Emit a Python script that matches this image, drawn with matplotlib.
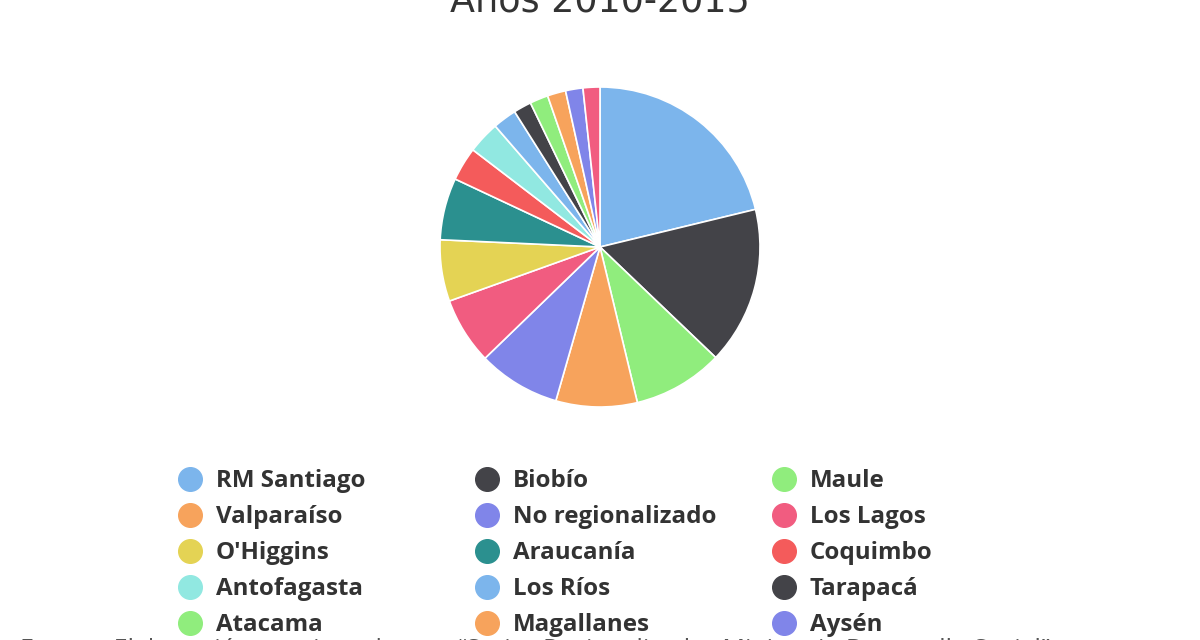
import matplotlib
matplotlib.use("Agg")
import matplotlib.pyplot as plt

plt.rcParams['font.family'] = ['Open Sans', 'DejaVu Sans']

# regiones y participación (%)
regiones = ["RM Santiago", "Biobío", "Maule", "Valparaíso", "No regionalizado",
            "Los Lagos", "O'Higgins", "Araucanía", "Coquimbo", "Antofagasta",
            "Los Ríos", "Tarapacá", "Atacama", "Magallanes", "Aysén",
            "Arica y Parinacota"]
valores = [21.2, 15.9, 9.1, 8.2, 8.3, 6.75, 6.2, 6.25, 3.4, 3.25,
           2.4, 1.8, 1.85, 1.85, 1.75, 1.7]
colores = ["#7cb5ec", "#434348", "#90ed7d", "#f7a35c", "#8085e9",
           "#f15c80", "#e4d354", "#2b908f", "#f45b5b", "#91e8e1",
           "#7cb5ec", "#434348", "#90ed7d", "#f7a35c", "#8085e9",
           "#f15c80"]

W, H = 1200, 640
fig = plt.figure(figsize=(12, 6.4), dpi=100)

# pie
cx, cy, R = 600, 247, 160
ax = fig.add_axes(((cx - R) / W, (H - cy - R) / H, 2 * R / W, 2 * R / H))
ax.pie(valores, colors=colores, startangle=90, counterclock=False, radius=1,
       wedgeprops={"edgecolor": "white", "linewidth": 1.2})
ax.set_xlim(-1, 1)
ax.set_ylim(-1, 1)
ax.set_aspect("equal")
ax.axis("off")

# titulo (cortado arriba como en el original)
fig.text(600 / W, 1 - 11 / H, "Años 2010-2015", ha="center", va="baseline",
         fontsize=26.3, color="#333333", family=["DejaVu Sans"])

# leyenda manual, 3 columnas por filas
col_x = [190, 487, 784]
for i, (nom, c) in enumerate(zip(regiones, colores)):
    fila, col = divmod(i, 3)
    y = 479 + fila * 36
    fig.lines.append(plt.Line2D([col_x[col] / W], [1 - y / H], marker="o",
                                markersize=17, color=c, linestyle="none",
                                transform=fig.transFigure))
    fig.text((col_x[col] + 26) / W, 1 - (y + 2) / H, nom, ha="left", va="center",
             fontsize=17.4, fontweight="bold", color="#333333")

# fuente (cortada abajo)
fig.text(20 / W, 1 - 657 / H,
         "Fuente: Elaboración propia en base a “Series Regionalizadas Ministerio Desarrollo Social”",
         ha="left", va="baseline", fontsize=18, color="#555555")

fig.savefig("out.png", dpi=100, facecolor="white")
